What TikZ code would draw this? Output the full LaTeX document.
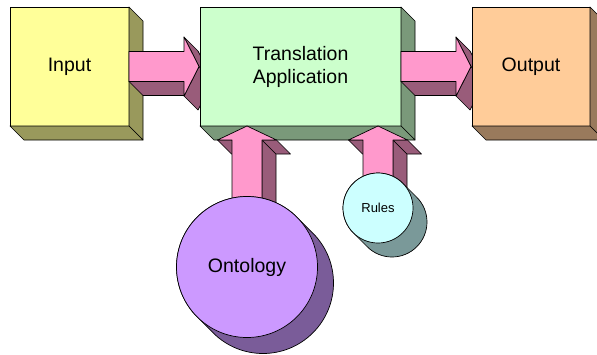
\documentclass[tikz,border=0pt]{standalone}
\usepackage{fontspec}
\setmainfont{Liberation Sans}
\usetikzlibrary{calc}

\definecolor{inpface}{HTML}{FFFF99}
\definecolor{inpside}{HTML}{99995C}
\definecolor{trface}{HTML}{CCFFCC}
\definecolor{trside}{HTML}{7A997A}
\definecolor{outface}{HTML}{FFCC99}
\definecolor{outside}{HTML}{997A5C}
\definecolor{arrface}{HTML}{FF99CC}
\definecolor{arrside}{HTML}{995C7A}
\definecolor{ontface}{HTML}{CC99FF}
\definecolor{ontside}{HTML}{7A5C99}
\definecolor{rulface}{HTML}{CCFFFF}
\definecolor{rulside}{HTML}{7A9999}

\tikzset{
  edge/.style={draw=black, line width=0.7pt, line join=round},
  bigtext/.style={font=\fontsize{19.5}{23}\selectfont},
  boxface/.style={edge, rectangle, inner sep=0pt, outer sep=0pt,
    minimum height=119pt, bigtext, align=center},
  % extruded block arrow pointing right; origin at the middle of the tail
  pics/rarrow/.style={code={
    \filldraw[edge, fill=arrside] (0,15) -- (55,15) -- (69,29) -- (14,29) -- cycle;
    \filldraw[edge, fill=arrside] (70,0) -- (55,29.5) -- (69,43.5) -- (84,14) -- cycle;
    \filldraw[edge, fill=arrside] (55,-29.5) -- (70,0) -- (84,14) -- (69,-15.5) -- cycle;
    \filldraw[edge, fill=arrface] (0,-15) -- (55,-15) -- (55,-29.5) -- (70,0)
      -- (55,29.5) -- (55,15) -- (0,15) -- cycle;
  }},
  % extruded block arrow pointing up; origin at the tip, #1 = shaft end
  pics/uarrow/.style={code={
    \filldraw[edge, fill=arrside] (-15,14) -- (-29.5,14) -- (-15.5,28) -- (-1,28) -- cycle;
    \filldraw[edge, fill=arrside] (15,14) -- (15,#1) -- (29,{#1+14}) -- (29,28) -- cycle;
    \filldraw[edge, fill=arrside] (29.5,14) -- (15,14) -- (29,28) -- (43.5,28) -- cycle;
    \filldraw[edge, fill=arrface] (0,0) -- (29.5,14) -- (15,14) -- (15,#1)
      -- (-15,#1) -- (-15,14) -- (-29.5,14) -- cycle;
  }}
}

% side and bottom faces of a box node
\newcommand{\boxsides}[2]{%
  \filldraw[edge, fill=#2] (#1.north east) -- ($(#1.north east)+(14,14)$)
    -- ($(#1.south east)+(14,14)$) -- (#1.south east) -- cycle;
  \filldraw[edge, fill=#2] (#1.south west) -- (#1.south east)
    -- ($(#1.south east)+(14,14)$) -- ($(#1.south west)+(14,14)$) -- cycle;
}

% extruded shadow of a disc: centre, radius (pt), depth, colour
\newcommand{\discshadow}[4]{%
  \filldraw[edge, fill=#4] ($(#1)+(45:#2pt)$) -- ($(#1)+(#3,#3)+(45:#2pt)$)
    arc[start angle=45, end angle=-135, radius=#2pt]
    -- ($(#1)+(225:#2pt)$)
    arc[start angle=225, end angle=45, radius=#2pt] -- cycle;
}

\begin{document}
\begin{tikzpicture}[x=1pt, y=-1pt]
  \clip (0,0) rectangle (597,354);
  \fill[white] (0,0) rectangle (597,354);

  % input box
  \node[boxface, fill=inpface, minimum width=119pt] (inp) at (69.5,66.5) {Input};
  \boxsides{inp}{inpside}

  \pic at (inp.east) {rarrow};

  % translation application box
  \node[boxface, fill=trface, minimum width=201pt] (trans) at (300.5,66.5)
    {Translation\\Application};
  \boxsides{trans}{trside}

  \pic at (trans.east) {rarrow};

  % output box
  \node[boxface, fill=outface, minimum width=118pt] (outp) at (531,66.5) {Output};
  \boxsides{outp}{outside}

  % discs feeding the translation box
  \coordinate (oc) at (247,267);
  \coordinate (rc) at (378,208);

  \pic at (trans.south -| oc) {uarrow=90};
  \pic at (trans.south -| rc) {uarrow=60};

  \discshadow{oc}{70.5}{16}{ontside}
  \node[edge, circle, fill=ontface, minimum size=141pt, inner sep=0pt, bigtext]
    (onto) at (oc) {Ontology};

  \discshadow{rc}{35}{14}{rulside}
  \node[edge, circle, fill=rulface, minimum size=70pt, inner sep=0pt,
    font=\fontsize{13}{15}\selectfont] (rules) at (rc) {Rules};
\end{tikzpicture}
\end{document}
